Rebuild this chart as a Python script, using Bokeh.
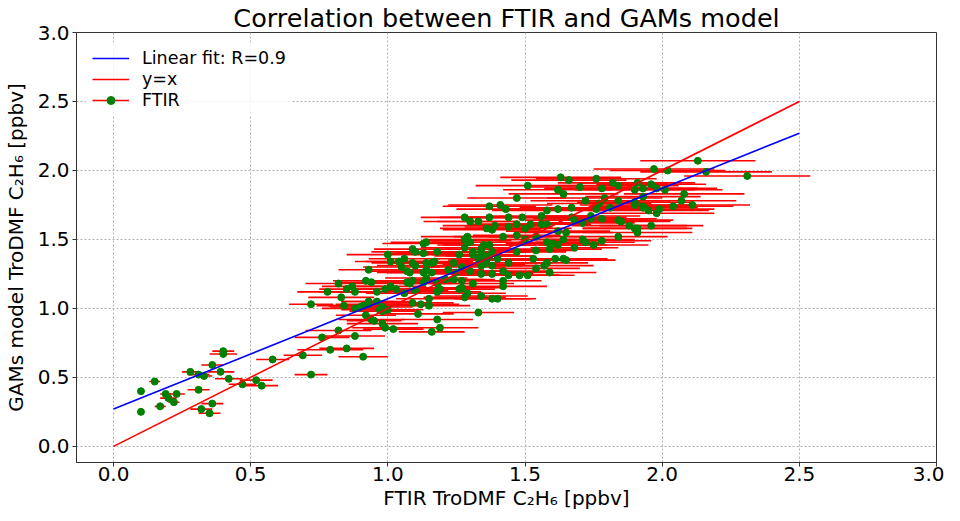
from bokeh.plotting import figure
from bokeh.models import Range1d, FixedTicker, Legend, LegendItem, ColumnDataSource, PrintfTickFormatter
from bokeh.embed import file_html
from bokeh.resources import INLINE

# ---- data ----
ftir_x = [
    0.10, 0.15, 0.10, 0.17, 0.19, 0.20, 0.22, 0.23, 0.28, 0.31, 0.33, 0.31, 0.36, 0.39, 0.40, 0.40,
    0.42, 0.47, 0.52, 0.54, 0.58, 0.69, 0.72, 0.36, 0.32, 0.35,
    0.79, 0.85, 0.91, 0.76, 0.82, 0.88, 0.72, 0.83, 0.78, 0.82, 0.85, 0.88, 0.87, 0.84, 0.88, 0.90,
    0.91, 0.93, 0.93, 0.96, 0.92, 0.94, 0.95, 0.98, 0.99, 1.02, 0.97, 0.98, 1.00, 0.98, 0.92, 0.94,
    0.93, 0.96, 0.99, 1.01, 1.03, 1.06, 1.01, 1.00, 1.04, 1.05, 1.07, 1.08, 1.08, 1.07, 1.09, 1.10,
    1.09, 1.11, 1.12, 1.15, 1.15, 1.18, 1.19, 1.16, 1.13, 1.14, 1.09, 1.10, 1.13, 1.09, 1.10, 1.14,
    1.16, 1.17, 1.14, 1.16, 1.13, 1.13, 1.14, 1.18, 1.19, 1.18, 1.21, 1.18, 1.22, 1.24, 1.26, 1.28,
    1.29, 1.30, 1.28, 1.31, 1.34, 1.35, 1.33, 1.36, 1.37, 1.35, 1.38, 1.38, 1.27, 1.30, 1.27, 1.26,
    1.27, 1.29, 1.31, 1.34, 1.38, 1.33, 1.24, 1.25,
    1.42, 1.42, 1.34, 1.38, 1.42, 1.44, 1.48, 1.51, 1.54, 1.57, 1.58, 1.59, 1.61, 1.64, 1.65, 1.34,
    1.38, 1.44, 1.47, 1.53, 1.54, 1.59, 1.60, 1.62, 1.68, 1.34, 1.35, 1.40, 1.37, 1.42, 1.47, 1.50,
    1.54, 1.58, 1.64, 1.65, 1.71, 1.72, 1.75, 1.78, 1.36, 1.39, 1.44, 1.47, 1.50, 1.52, 1.56, 1.58,
    1.62, 1.37, 1.44, 1.49, 1.56, 1.67, 1.68, 1.71, 1.74, 1.74, 1.78, 1.43, 1.58, 1.62, 1.67, 1.76,
    1.81, 1.37, 1.41, 1.84, 1.85, 1.88, 1.90, 1.91, 1.84, 1.90, 1.93, 1.95, 1.99, 1.98, 2.04, 1.96,
    1.72, 1.77, 1.79, 1.47, 1.64, 1.84, 1.93, 1.93, 1.98, 2.01, 1.51, 1.62, 1.70, 1.78, 1.82, 1.84,
    1.91, 1.96, 1.63, 1.66, 1.76, 1.97, 2.02,
    2.13, 2.16, 2.31, 2.08, 2.07, 2.11, 1.93, 1.91, 1.90, 1.90,
    1.28, 1.40, 1.28, 1.30, 1.33, 1.06, 1.29, 1.31,
]
gams_y = [
    0.40, 0.47, 0.25, 0.29, 0.38, 0.35, 0.32, 0.38, 0.54, 0.52, 0.51, 0.41, 0.59, 0.54, 0.67, 0.69,
    0.49, 0.45, 0.48, 0.44, 0.63, 0.66, 0.52, 0.31, 0.27, 0.24,
    0.70, 0.71, 0.65, 0.79, 0.84, 0.80, 1.03, 1.08, 1.12, 1.18, 1.14, 1.12, 1.16, 1.02, 1.00, 1.01,
    1.02, 1.05, 1.03, 1.05, 0.95, 0.92, 0.91, 0.89, 0.86, 0.85, 0.99, 0.98, 0.99, 1.01, 1.20, 1.19,
    1.28, 1.12, 1.14, 1.16, 1.14, 1.11, 1.34, 1.39, 1.34, 1.30, 1.27, 1.26, 1.18, 1.19, 1.20, 1.13,
    1.04, 0.96, 1.03, 1.07, 1.02, 0.92, 0.86, 0.83, 1.47, 1.48, 1.43, 1.41, 1.40, 1.33, 1.31, 1.33,
    1.33, 1.34, 1.28, 1.26, 1.26, 1.19, 1.22, 1.18, 1.14, 1.12, 1.21, 1.41, 1.28, 1.33, 1.39, 1.50,
    1.52, 1.48, 1.44, 1.39, 1.43, 1.46, 1.36, 1.35, 1.38, 1.32, 1.57, 1.41, 1.30, 1.27, 1.20, 1.14,
    1.15, 1.11, 1.18, 1.09, 1.07, 0.97, 1.21, 1.26,
    1.16, 1.20, 1.25, 1.25, 1.27, 1.24, 1.24, 1.24, 1.29, 1.31, 1.33, 1.26, 1.36, 1.36, 1.35, 1.31,
    1.31, 1.33, 1.41, 1.36, 1.42, 1.43, 1.47, 1.46, 1.44, 1.41, 1.38, 1.36, 1.46, 1.52, 1.53, 1.50,
    1.52, 1.48, 1.50, 1.55, 1.50, 1.48, 1.46, 1.49, 1.58, 1.60, 1.59, 1.61, 1.58, 1.61, 1.61, 1.61,
    1.56, 1.66, 1.66, 1.66, 1.67, 1.66, 1.64, 1.62, 1.65, 1.67, 1.65, 1.72, 1.71, 1.72, 1.73, 1.72,
    1.73, 1.74, 1.75, 1.64, 1.63, 1.60, 1.58, 1.58, 1.52, 1.77, 1.73, 1.71, 1.72, 1.69, 1.74, 1.60,
    1.78, 1.76, 1.80, 1.80, 1.83, 1.78, 1.81, 1.87, 1.87, 1.86, 1.89, 1.86, 1.88, 1.87, 1.91, 1.89,
    1.91, 1.90, 1.95, 1.93, 1.94, 2.01, 2.00,
    2.07, 1.99, 1.96, 1.83, 1.78, 1.75, 1.74, 1.55, 1.86, 1.75,
    1.08, 1.07, 1.66, 1.63, 1.63, 1.36, 1.49, 1.41,
]
ftir_err = [
    0.01, 0.02, 0.01, 0.02, 0.02, 0.03, 0.02, 0.03, 0.03, 0.04, 0.03, 0.04, 0.04, 0.05, 0.05, 0.04,
    0.05, 0.05, 0.06, 0.06, 0.06, 0.07, 0.06, 0.04, 0.04, 0.04,
    0.12, 0.10, 0.09, 0.10, 0.12, 0.11, 0.08, 0.12, 0.11, 0.12, 0.10, 0.13, 0.11, 0.10, 0.12, 0.11,
    0.13, 0.10, 0.12, 0.13, 0.11, 0.12, 0.10, 0.13, 0.12, 0.11, 0.14, 0.12, 0.13, 0.11, 0.12, 0.13,
    0.11, 0.14, 0.12, 0.13, 0.11, 0.14, 0.13, 0.15, 0.12, 0.14, 0.13, 0.12, 0.15, 0.13, 0.14, 0.12,
    0.15, 0.13, 0.14, 0.12, 0.15, 0.13, 0.14, 0.12, 0.15, 0.13, 0.14, 0.16, 0.13, 0.15, 0.14, 0.12,
    0.15, 0.14, 0.13, 0.16, 0.14, 0.12, 0.15, 0.14, 0.13, 0.16, 0.14, 0.15, 0.13, 0.16, 0.14, 0.15,
    0.17, 0.14, 0.16, 0.15, 0.13, 0.17, 0.15, 0.14, 0.16, 0.15, 0.18, 0.14, 0.16, 0.14, 0.15, 0.13,
    0.16, 0.14, 0.15, 0.17, 0.14, 0.13, 0.15, 0.14,
    0.16, 0.14, 0.17, 0.15, 0.16, 0.18, 0.15, 0.17, 0.16, 0.18, 0.15, 0.17, 0.19, 0.16, 0.18, 0.15,
    0.17, 0.16, 0.18, 0.17, 0.15, 0.19, 0.17, 0.18, 0.16, 0.16, 0.18, 0.15, 0.17, 0.18, 0.16, 0.19,
    0.17, 0.18, 0.20, 0.17, 0.19, 0.18, 0.20, 0.18, 0.17, 0.19, 0.16, 0.18, 0.17, 0.19, 0.18, 0.16,
    0.19, 0.18, 0.17, 0.19, 0.18, 0.20, 0.18, 0.19, 0.21, 0.18, 0.20, 0.18, 0.20, 0.18, 0.19, 0.21,
    0.19, 0.17, 0.19, 0.20, 0.18, 0.21, 0.19, 0.20, 0.18, 0.21, 0.20, 0.22, 0.20, 0.21, 0.22, 0.19,
    0.20, 0.19, 0.21, 0.18, 0.20, 0.19, 0.21, 0.20, 0.22, 0.21, 0.19, 0.20, 0.18, 0.21, 0.20, 0.22,
    0.21, 0.20, 0.22, 0.21, 0.22, 0.22, 0.21,
    0.21, 0.24, 0.23, 0.22, 0.20, 0.21, 0.19, 0.20, 0.22, 0.20,
    0.15, 0.14, 0.16, 0.17, 0.15, 0.13, 0.16, 0.15,
]
fit_x = [0.0, 2.5]
fit_y = [0.27, 2.27]
ident_x = [0.0, 2.5]
ident_y = [0.0, 2.5]
ticks = [0.0, 0.5, 1.0, 1.5, 2.0, 2.5, 3.0]

FONT = "DejaVu Sans"

src = ColumnDataSource(dict(
    x=ftir_x, y=gams_y,
    lo=[a - e for a, e in zip(ftir_x, ftir_err)],
    hi=[a + e for a, e in zip(ftir_x, ftir_err)],
))

p = figure(width=944, height=512, output_backend="svg", toolbar_location=None,
           x_range=Range1d(-0.135, 3.0), y_range=Range1d(-0.117, 3.0),
           min_border_left=72, min_border_right=8, min_border_top=25, min_border_bottom=40,
           title="Correlation between FTIR and GAMs model")

p.title.text_font = FONT
p.title.text_font_size = "25.5px"
p.title.text_font_style = "normal"
p.title.align = "center"
p.title.standoff = 0
p.title.text_color = "black"

seg = p.segment(x0="lo", x1="hi", y0="y", y1="y", source=src, line_color="red", line_width=1.6)
pts = p.scatter(x="x", y="y", source=src, size=7, fill_color="green", line_color="green")
l_fit = p.line(fit_x, fit_y, line_color="blue", line_width=1.6)
l_id = p.line(ident_x, ident_y, line_color="red", line_width=1.6)

for ax in (p.xaxis[0], p.yaxis[0]):
    ax.ticker = FixedTicker(ticks=ticks)
    ax.formatter = PrintfTickFormatter(format="%.1f")
    ax.major_label_text_font = FONT
    ax.major_label_text_font_size = "20px"
    ax.major_label_text_color = "black"
    ax.axis_label_text_font = FONT
    ax.axis_label_text_font_size = "20px"
    ax.axis_label_text_font_style = "normal"
    ax.axis_label_text_color = "black"
    ax.major_tick_in = 0
    ax.major_tick_out = 4
    ax.minor_tick_in = 0
    ax.minor_tick_out = 0
    ax.axis_line_color = "#333333"
    ax.major_tick_line_color = "#333333"

p.xaxis.major_label_standoff = 0
p.xaxis.axis_label_standoff = 2
p.yaxis.major_label_standoff = 3
p.yaxis.axis_label_standoff = 7

p.xaxis.axis_label = "FTIR TroDMF C₂H₆ [ppbv]"
p.yaxis.axis_label = "GAMs model TroDMF C₂H₆ [ppbv]"

p.grid.grid_line_color = "#b0b0b0"
p.grid.grid_line_dash = "2 2"
p.grid.grid_line_width = 1
p.outline_line_color = "#333333"
p.outline_line_width = 1
p.background_fill_color = "white"

legend = Legend(items=[
    LegendItem(label="Linear fit: R=0.9", renderers=[l_fit]),
    LegendItem(label="y=x", renderers=[l_id]),
    LegendItem(label="FTIR", renderers=[seg, pts]),
], location="top_left")
legend.label_text_font = FONT
legend.label_text_font_size = "17.5px"
legend.label_text_color = "black"
legend.glyph_width = 37
legend.glyph_height = 20
legend.label_height = 20
legend.label_standoff = 13
legend.spacing = 1
legend.padding = 6
legend.margin = 10
legend.border_line_alpha = 0
legend.background_fill_color = "white"
legend.background_fill_alpha = 0.8
p.add_layout(legend)

open("out.html", "w").write(file_html(p, INLINE))
